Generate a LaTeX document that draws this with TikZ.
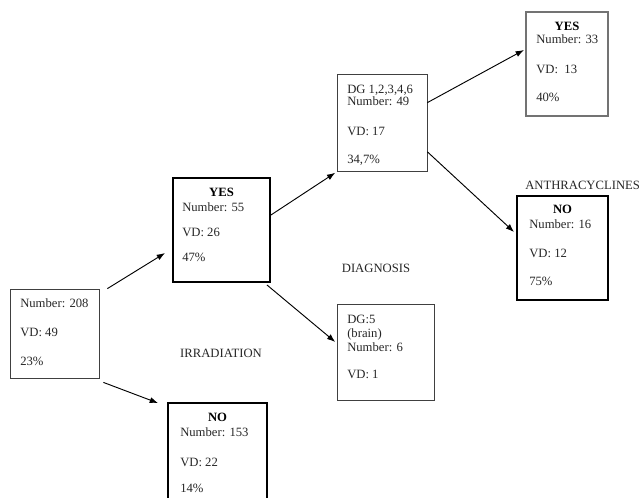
\documentclass[tikz,border=0pt]{standalone}
\usepackage{fontspec}
\setmainfont{Liberation Serif}
\usetikzlibrary{arrows.meta}
\tikzset{
  outcome/.style={rectangle, draw=black!75, line width=0.6pt, inner sep=0pt},
  strong/.style={draw=black, line width=1.4pt},
  soft/.style={draw=black!55, line width=1.1pt},
  entry/.style={anchor=north west, align=left, inner sep=0pt, font=\fontsize{9.5}{11.5}\selectfont, text=black!85},
  head/.style={anchor=north, inner sep=0pt, font=\fontsize{9.5}{11.5}\selectfont\bfseries},
  factor/.style={inner sep=0pt, font=\fontsize{9.5}{11.5}\selectfont, text=black!85},
  fwd/.style={-{Latex[length=2.2mm,width=1.6mm]}, line width=0.7pt},
}

\begin{document}
\begin{tikzpicture}[x=0.75pt,y=-0.75pt]
  \useasboundingbox (0,0) rectangle (639,497);

  % boxes
  \node[outcome, minimum width=66.75pt, minimum height=66.75pt] (all) at (54.5,333.5) {};
  \node[outcome, strong, minimum width=72.75pt, minimum height=78pt] (irryes) at (221.5,230) {};
  \node[outcome, strong, minimum width=74.25pt, minimum height=75pt] (irrno) at (217.5,453) {};
  \node[outcome, minimum width=67.5pt, minimum height=72.75pt] (dgmain) at (382,122.5) {};
  \node[outcome, minimum width=72.75pt, minimum height=72pt] (dgbrain) at (385.5,352) {};
  \node[outcome, soft, minimum width=61.5pt, minimum height=78pt] (antyes) at (567,64) {};
  \node[outcome, strong, minimum width=68.25pt, minimum height=78pt] (antno) at (562.5,248) {};

  % box contents
  \node[entry] (allt) at (20,298) {Number: 208\\[10.25pt]VD: 49\\[10.25pt]23\%};
  \node[head] (irryesh) at (221.5,188) {YES};
  \node[entry] (irryest) at (182,202) {Number: 55\\[7.5pt]VD: 26\\[7.5pt]47\%};
  \node[head] (irrnoh) at (217.5,413) {NO};
  \node[entry] (irrnot) at (180,427) {Number: 153\\[11pt]VD: 22\\[8pt]14\%};
  \node[entry] (dgmaint) at (347,85) {DG 1,2,3,4,6\\[-2.5pt]Number: 49\\[11pt]VD: 17\\[9.5pt]34,7\%};
  \node[entry] (dgbraint) at (347,315) {DG:5\\[-1pt](brain)\\[-1pt]Number: 6\\[8.75pt]VD: 1};
  \node[head] (antyesh) at (567,22) {YES};
  \node[entry] (antyest) at (536,34) {Number: 33\\[11pt]VD:\ \ 13\\[9.5pt]40\%};
  \node[head] (antnoh) at (562.5,205) {NO};
  \node[entry] (antnot) at (529,219) {Number: 16\\[10.25pt]VD: 12\\[9.5pt]75\%};

  % factors
  \node[factor, anchor=west] (lanth) at (525,185) {ANTHRACYCLINES};
  \node[factor] (ldiag) at (376,268) {DIAGNOSIS};
  \node[factor] (lirr) at (221,353) {IRRADIATION};

  % arrows
  \draw[fwd] ([xshift=6pt]all.north east) -- ([xshift=-5.25pt,yshift=-17.25pt]irryes.west);
  \draw[fwd] ([xshift=3pt,yshift=-3pt]all.south east) -- ([xshift=-6.75pt,yshift=-0.75pt]irrno.north west);
  \draw[fwd] ([yshift=11.25pt]irryes.east) -- ([xshift=-1pt,yshift=-1pt]dgmain.south west);
  \draw[fwd] ([xshift=-3pt,yshift=-1.5pt]irryes.south east) -- ([xshift=-1pt,yshift=7.5pt]dgbrain.west);
  \draw[fwd] ([yshift=-21.75pt]dgmain.north east) -- ([xshift=-1pt,yshift=10.5pt]antyes.west);
  \draw[fwd] ([yshift=-22pt]dgmain.east) -- ([xshift=-1.5pt,yshift=12pt]antno.west);
\end{tikzpicture}
\end{document}
